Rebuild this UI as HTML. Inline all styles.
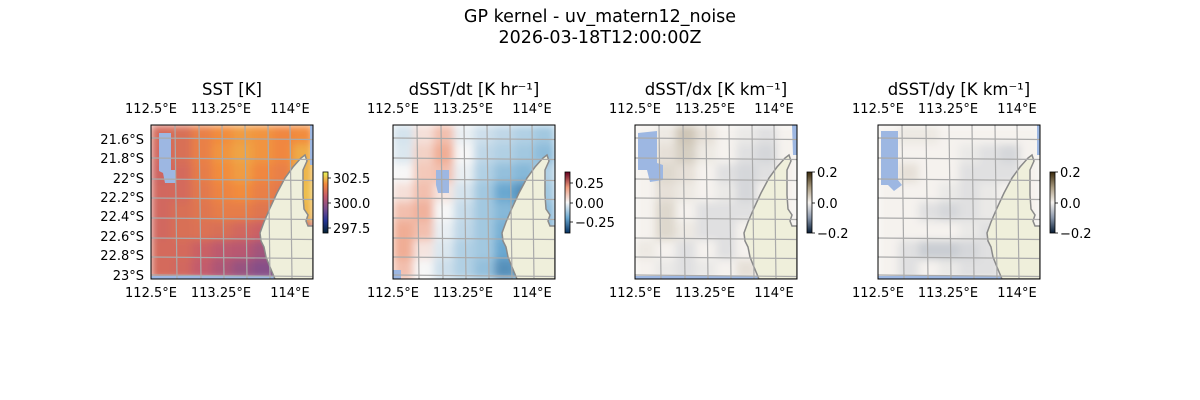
<!DOCTYPE html>
<html><head><meta charset="utf-8">
<style>
html,body{margin:0;padding:0;background:#fff;}
svg{display:block;font-family:"DejaVu Sans","Liberation Sans",sans-serif;}
</style></head>
<body>
<svg id="fig" width="1200" height="400" viewBox="0 0 1200 400">
<text x="600" y="22" text-anchor="middle" font-size="17.5">GP kernel - uv_matern12_noise</text>
<text x="600" y="43" text-anchor="middle" font-size="17.5">2026-03-18T12:00:00Z</text>
<defs>
<linearGradient id="g-thermal" x1="0" y1="1" x2="0" y2="0">
<stop offset="0" stop-color="#042333"/><stop offset="0.2" stop-color="#253494"/><stop offset="0.4" stop-color="#7a4e8e"/><stop offset="0.6" stop-color="#c45b6b"/><stop offset="0.8" stop-color="#f2893d"/><stop offset="1" stop-color="#e8f55a"/>
</linearGradient>
<linearGradient id="g-rdbu" x1="0" y1="1" x2="0" y2="0">
<stop offset="0" stop-color="#053061"/><stop offset="0.25" stop-color="#6aa8d0"/><stop offset="0.5" stop-color="#f7f7f7"/><stop offset="0.75" stop-color="#ee9a7d"/><stop offset="1" stop-color="#67001f"/>
</linearGradient>
<linearGradient id="g-diff" x1="0" y1="1" x2="0" y2="0">
<stop offset="0" stop-color="#081d36"/><stop offset="0.25" stop-color="#8a97ab"/><stop offset="0.5" stop-color="#f5f2ee"/><stop offset="0.75" stop-color="#a89a80"/><stop offset="1" stop-color="#3a2a0c"/>
</linearGradient>
<filter id="soft" x="-10%" y="-10%" width="120%" height="120%"><feGaussianBlur stdDeviation="4" edgeMode="duplicate"/></filter>
</defs>
</svg>
<script>
// ---- data ----
const lonTicks = ["112.5°E","113.25°E","114°E"];
const latTicks = ["21.6°S","21.8°S","22°S","22.2°S","22.4°S","22.6°S","22.8°S","23°S"];
const panelTitles = ["SST [K]","dSST/dt [K hr\u207B\u00B9]","dSST/dx [K km\u207B\u00B9]","dSST/dy [K km\u207B\u00B9]"];
const sstValues = [
[301.5,301.6,302.1,302.4,302.6,302.5,302.3,302.4],
[301.4,301.6,302.1,302.5,302.7,302.5,302.3,302.8],
[301.3,301.5,302.0,302.4,302.6,302.3,302.1,302.9],
[301.4,301.5,301.9,302.2,302.4,302.1,301.9,303.0],
[301.4,301.6,301.8,302.0,302.0,301.8,301.6,302.9],
[301.4,301.6,301.7,301.6,301.4,301.2,301.2,301.2],
[301.5,301.5,301.2,300.9,300.8,300.4,300.4,300.4],
[301.5,301.4,301.0,300.6,300.2,299.9,299.9,299.9]];
const dtValues = [
[-0.05,0.05,0.12,-0.02,-0.06,-0.08,-0.1,-0.12],
[-0.04,0.08,0.16,0.0,-0.08,-0.1,-0.12,-0.15],
[0.0,0.1,0.12,-0.02,-0.1,-0.14,-0.16,-0.1],
[0.05,0.12,0.04,-0.05,-0.12,-0.2,-0.24,-0.12],
[0.12,0.15,0.0,-0.07,-0.12,-0.16,-0.18,-0.15],
[0.16,0.12,-0.02,-0.08,-0.12,-0.18,-0.18,-0.15],
[0.16,0.04,-0.04,-0.1,-0.12,-0.2,-0.2,-0.15],
[0.12,0.0,-0.06,-0.1,-0.14,-0.24,-0.2,-0.15]];
const dxValues = [
[0.0,0.01,0.05,0.02,0.0,-0.01,-0.02,0.0],
[0.0,0.02,0.04,0.01,0.0,-0.02,-0.03,0.0],
[0.0,0.03,0.02,0.0,-0.02,-0.03,-0.02,0.0],
[0.0,0.02,0.01,0.0,-0.01,-0.03,0.0,0.0],
[0.0,0.03,0.0,-0.02,-0.02,-0.02,0.0,0.0],
[0.0,0.03,0.01,-0.02,-0.02,0.0,0.0,0.0],
[0.01,0.0,-0.02,0.0,-0.02,0.0,0.0,0.0],
[0.0,-0.01,-0.02,-0.01,0.0,0.02,0.0,0.0]];
const dyValues = [
[0.0,0.01,0.01,0.0,0.0,0.0,0.0,0.0],
[0.0,0.0,0.0,0.0,-0.01,-0.02,-0.03,0.0],
[0.0,0.02,0.0,0.0,-0.02,-0.02,-0.02,0.0],
[0.0,0.0,0.0,-0.01,-0.02,-0.01,0.0,0.0],
[0.0,0.0,-0.02,-0.03,-0.02,-0.01,0.0,0.0],
[0.0,0.0,0.0,0.0,-0.01,-0.02,0.0,0.0],
[0.0,-0.02,-0.04,-0.04,-0.03,-0.02,0.0,0.0],
[0.0,-0.02,0.0,-0.01,-0.02,-0.02,0.0,0.0]];
const sstTicks = ["302.5","300.0","297.5"];
const dtTicks = ["0.25","0.00","\u22120.25"];
const gradTicks = ["0.2","0.0","\u22120.2"];

// ---- helpers ----
const NS="http://www.w3.org/2000/svg";
const svg=document.getElementById('fig');
function mk(tag,attrs,parent){const e=document.createElementNS(NS,tag);for(const k in attrs)e.setAttribute(k,attrs[k]);(parent||svg).appendChild(e);return e;}
function hex(h){return [parseInt(h.slice(1,3),16),parseInt(h.slice(3,5),16),parseInt(h.slice(5,7),16)];}
function cmap(stops,t){t=Math.max(0,Math.min(1,t));for(let i=1;i<stops.length;i++){if(t<=stops[i][0]){const a=stops[i-1],b=stops[i];const f=(t-a[0])/(b[0]-a[0]);const ca=hex(a[1]),cb=hex(b[1]);return 'rgb('+ca.map((v,j)=>Math.round(v+(cb[j]-v)*f)).join(',')+')';}}return stops[stops.length-1][1];}
const thermal=[[0,"#042333"],[0.2,"#253494"],[0.4,"#7a4e8e"],[0.6,"#c45b6b"],[0.8,"#f2893d"],[1,"#e8f55a"]];
const rdbu=[[0,"#053061"],[0.25,"#6aa8d0"],[0.5,"#f7f7f7"],[0.75,"#ee9a7d"],[1,"#67001f"]];
const diff=[[0,"#081d36"],[0.25,"#8a97ab"],[0.5,"#f5f2ee"],[0.75,"#a89a80"],[1,"#3a2a0c"]];

const PW=162, PH=154, PY=125;
const panelX=[151,393,635,878];
const land="M154,30 L150,33 L142,42 L134,53 L126,68 L119,83 L113,97 L109,108 L110,116 L113,122 L115,132 L119,142 L124,154 L162,154 L162,101 L157,101 L155,96 L157,90 L153,84 L152,70 L152,45 L156,36 Z";
const nanPatches=[
 ["M8,8 L20,8 L20,45 L25,45 L25,58 L14,58 L12,48 L8,46 Z","M0,151 L162,151 L162,154 L0,154 Z","M159,0 L162,0 L162,40 L159,40 Z"],
 ["M43,45 L56,45 L56,68 L45,68 L43,60 Z","M0,145 L8,145 L8,154 L0,154 Z"],
 ["M3,8 L22,6 L22,38 L28,40 L28,55 L15,57 L12,45 L3,45 Z","M157,0 L162,0 L162,30 L158,30 Z","M0,151 L130,151 L130,154 L0,154 Z"],
 ["M3,6 L20,6 L20,55 L24,60 L16,66 L10,60 L3,60 Z","M159,0 L162,0 L162,30 L159,30 Z","M0,151 L130,151 L130,154 L0,154 Z"]];
const vgrid=[24,48,71,94,117,139];
const hgrid=[13,33,54,73,93,113,132,150];

function panel(i,values,vmin,vmax,stops,grad,cticks){
  const x0=panelX[i];
  const g=mk('g',{transform:'translate('+x0+','+PY+')'});
  
  
  const clip=mk('clipPath',{id:'clip'+i},g);mk('rect',{x:0,y:0,width:PW,height:PH},clip);
  const inner=mk('g',{'clip-path':'url(#clip'+i+')'},g);
  const field=mk('g',{filter:'url(#soft)'},inner);
  const rows=values.length, cols=values[0].length;
  const cw=PW/cols, ch=PH/rows;
  values.forEach((row,r)=>row.forEach((v,c)=>{
    const cell=mk('rect',{x:c*cw,y:r*ch,width:cw+0.5,height:ch+0.5,fill:cmap(stops,(v-vmin)/(vmax-vmin))},field);
    
    
  }));
  nanPatches[i].forEach(p=>{const e=mk('path',{d:p,fill:'#9db7e2'},inner);
    
    });
  const l=mk('path',{d:land,fill:'#efefdb',stroke:'#8a8a8a','stroke-width':1.5},inner);
  
  
  vgrid.forEach(v=>mk('line',{x1:v,y1:0,x2:v+2,y2:PH,stroke:'#aaaaaa','stroke-width':1.2},inner));
  hgrid.forEach(h=>mk('line',{x1:0,y1:h,x2:PW,y2:h+1.5,stroke:'#aaaaaa','stroke-width':1.2},inner));
  const fr=mk('rect',{x:0,y:0,width:PW,height:PH,fill:'none',stroke:'#000','stroke-width':1},g);
  
  
  const tx=[0,70,139];
  lonTicks.forEach((t,k)=>{
    const a=mk('text',{x:tx[k],y:-12,'text-anchor':'middle','font-size':13},g);a.textContent=t;
    
    
    const b=mk('text',{x:tx[k],y:172,'text-anchor':'middle','font-size':13},g);b.textContent=t;
    
    
  });
  if(i===0){
    const ly=[14,33,53,72,91,111,130,150];
    latTicks.forEach((t,k)=>{const a=mk('text',{x:-7,y:ly[k]+5,'text-anchor':'end','font-size':13},g);a.textContent=t;
      
      });
  }
  const tt=mk('text',{x:PW/2,y:-30,'text-anchor':'middle','font-size':16.5},g);tt.textContent=panelTitles[i];
  
  
  // colorbar
  const cb=mk('g',{transform:'translate('+(PW+10)+',47)'},g);
  
  
  mk('rect',{x:0,y:0,width:5,height:61,fill:'url(#'+grad+')',stroke:'#000','stroke-width':0.8},cb);
  const cy=(i===0)?[6,31,56]:(i===1)?[11,31,50]:[0,31,61];
  cticks.forEach((t,k)=>{mk('line',{x1:5,y1:cy[k],x2:8,y2:cy[k],stroke:'#000','stroke-width':0.8},cb);
    const a=mk('text',{x:10,y:cy[k]+5,'font-size':13},cb);a.textContent=t;
    
    });
}
panel(0,sstValues,297,303.7,thermal,'g-thermal',sstTicks);
panel(1,dtValues,-0.4,0.4,rdbu,'g-rdbu',dtTicks);
panel(2,dxValues,-0.2,0.2,diff,'g-diff',gradTicks);
panel(3,dyValues,-0.2,0.2,diff,'g-diff',gradTicks);
</script>
</body></html>
